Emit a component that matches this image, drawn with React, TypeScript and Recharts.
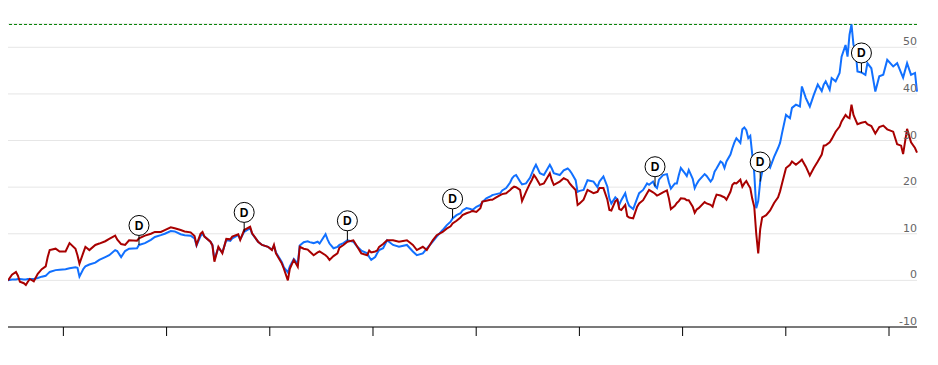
import { ComposedChart, Line, XAxis, YAxis, CartesianGrid, ReferenceLine } from "recharts";

// weeks since the start of the period
const weeks = [
  0, 2, 4, 5, 6, 8, 9, 10, 11, 13, 15, 17, 19, 20, 21, 24, 26, 29, 31, 34, 35, 36, 38, 39, 41, 44, 46, 49, 51, 54,
  55, 57, 59, 61, 65, 66, 69, 72, 74, 77, 79, 82, 84, 87, 89, 92, 94, 95, 97, 98, 99, 102, 103, 104, 106, 108, 110,
  112, 113, 116, 117, 119, 122, 123, 126, 128, 131, 133, 134, 135, 138, 139, 141, 142, 144, 146, 147, 149, 151, 152,
  154, 156, 157, 160, 161, 162, 164, 166, 167, 169, 171, 174, 176, 178, 181, 182, 183, 185, 186, 187, 189, 191, 194,
  197, 201, 204, 206, 209, 211, 214, 216, 219, 221, 223, 224, 226, 228, 229, 231, 233, 234, 236, 238, 239, 241, 243,
  244, 246, 248, 249, 251, 253, 254, 255, 256, 258, 259, 261, 263, 264, 265, 266, 268, 270, 273, 274, 275, 278, 280,
  282, 283, 284, 286, 287, 288, 290, 292, 295, 297, 298, 300, 302, 303, 304, 306, 307, 308, 309, 311, 312, 313, 315,
  317, 318, 320, 322, 323, 325, 326, 327, 328, 330, 332, 333, 334, 336, 337, 338, 339, 341, 342, 343, 345, 346, 347,
  348, 351, 352, 354, 355, 356, 357, 359, 360, 361, 362, 364, 365, 366, 367, 369, 370, 371, 372, 373, 374, 375, 376,
  377, 378, 379, 380, 382, 384, 386, 388, 389, 390, 392, 394, 395, 397, 399, 400, 402, 404, 406, 408, 410, 411, 412,
  414, 415, 417, 419, 420, 422, 423, 424, 425, 426, 427, 428, 430, 432, 433, 435, 437, 439, 441, 443, 446, 448, 450,
  451, 453, 455, 457, 458,
];

// total return in %, stock (blue)
const stockReturn = [
  0, 0.2, 0.2, 0.3, 0.3, 0.2, 0.2, 0.3, 0.3, 0.3, 0.5, 0.8, 1.0, 1.4, 1.8, 2.2, 2.3, 2.4, 2.6, 2.8, 2.7, 0.8, 2.5, 3.0,
  3.4, 3.8, 4.4, 5.0, 5.4, 6.5, 6.3, 5.0, 6.3, 6.8, 6.9, 7.6, 8.0, 8.7, 9.3, 9.7, 10.0, 10.6, 10.5, 9.9, 9.7, 9.6, 9.0,
  7.5, 9.5, 10.0, 9.4, 8.3, 7.6, 4.5, 7.0, 6.0, 8.7, 8.5, 9.0, 9.7, 8.8, 10.4, 11.2, 10.0, 8.3, 7.6, 7.2, 6.6, 7.4, 6.0,
  3.9, 2.8, 1.7, 3.0, 4.6, 3.6, 7.5, 8.2, 8.4, 8.2, 8.0, 8.3, 7.9, 9.9, 8.8, 7.9, 6.9, 7.2, 7.6, 8.0, 8.6, 8.3, 7.2,
  6.4, 5.8, 5.0, 4.4, 5.0, 5.8, 6.5, 6.9, 8.6, 7.6, 7.2, 7.6, 6.2, 5.4, 5.8, 6.8, 8.3, 9.4, 10.8, 11.8, 12.6, 13.3, 14.0,
  14.4, 15.0, 15.5, 15.3, 15.1, 15.8, 16.2, 16.8, 17.6, 18.0, 18.3, 18.5, 18.7, 19.3, 19.8, 21.0, 21.9, 22.4, 22.6, 21.2,
  20.6, 20.8, 22.0, 23.0, 24.0, 24.8, 23.0, 22.6, 24.8, 24.0, 23.0, 22.6, 23.6, 24.0, 23.6, 23.0, 21.5, 19.0, 19.2, 19.4,
  21.5, 21.2, 20.0, 21.2, 22.3, 20.1, 17.6, 16.5, 17.8, 17.4, 16.2, 17.2, 18.7, 17.0, 16.0, 15.3, 17.6, 18.7, 19.4, 20.8,
  20.5, 21.2, 20.2, 19.8, 21.6, 22.6, 22.8, 21.0, 19.7, 20.8, 20.8, 22.6, 24.1, 23.0, 22.4, 23.7, 21.8, 19.8, 20.7, 21.4,
  22.8, 22.4, 21.2, 21.8, 23.3, 24.0, 25.5, 25.2, 24.1, 25.5, 27.0, 28.4, 29.6, 30.5, 29.5, 32.4, 32.8, 32.2, 30.5, 31.0,
  27.0, 23.0, 15.5, 17.0, 21.2, 23.3, 25.5, 24.2, 26.5, 28.4, 29.5, 31.6, 35.5, 34.8, 37.0, 37.7, 37.3, 41.6, 39.1, 37.3,
  39.8, 42.0, 40.6, 42.0, 42.7, 40.9, 43.4, 42.7, 44.5, 48.0, 50.5, 48.0, 52.7, 54.9, 50.5, 49.8, 44.8, 44.6, 44.1, 46.6,
  45.5, 40.5, 43.8, 44.1, 47.3, 45.9, 46.6, 44.5, 43.5, 46.6, 44.1, 44.5, 40.5,
];

// total return in %, index (dark red)
const indexReturn = [
  0, 1.2, 1.8, 1.0, -0.3, -0.6, -1.0, -0.3, 0.3, -0.2, 1.4, 2.4, 3.0, 5.0, 6.5, 6.8, 6.2, 6.2, 8.0, 6.8, 5.4, 3.6, 6.0,
  7.2, 6.5, 7.6, 7.9, 8.4, 8.9, 9.6, 8.8, 7.8, 7.6, 8.6, 8.5, 9.0, 9.6, 10.0, 10.4, 10.4, 10.8, 11.4, 11.2, 10.8, 10.5,
  10.3, 9.5, 7.6, 10.0, 10.4, 9.4, 8.3, 7.5, 4.0, 7.2, 5.8, 8.9, 8.8, 9.4, 9.9, 8.7, 10.8, 11.5, 10.1, 8.3, 7.6, 7.2, 6.5,
  7.6, 5.8, 3.6, 2.5, 0.0, 2.5, 4.4, 2.9, 7.2, 6.8, 6.6, 6.2, 5.4, 6.0, 6.2, 5.4, 5.0, 4.4, 5.2, 5.8, 7.0, 7.6, 8.3, 8.6,
  7.2, 5.8, 5.4, 6.4, 6.0, 6.2, 6.4, 7.2, 7.8, 8.6, 8.6, 8.3, 8.6, 7.6, 6.5, 7.2, 6.5, 8.6, 9.7, 10.4, 11.1, 11.6, 12.2,
  12.8, 13.5, 14.0, 14.4, 14.7, 14.9, 14.7, 15.5, 16.9, 17.1, 17.3, 17.3, 17.8, 18.3, 18.5, 18.7, 19.4, 19.8, 20.1, 20.0,
  19.4, 17.0, 19.0, 20.8, 21.6, 22.6, 22.0, 20.5, 20.8, 23.0, 21.5, 20.5, 21.2, 21.9, 21.5, 20.8, 20.3, 19.4, 16.2, 16.5,
  17.3, 19.4, 18.7, 19.0, 19.8, 19.8, 17.3, 15.1, 15.0, 17.0, 17.3, 15.3, 15.1, 16.2, 13.8, 13.5, 13.3, 15.8, 16.5, 17.2,
  18.7, 19.4, 18.9, 18.6, 18.2, 18.4, 18.9, 19.3, 17.6, 15.3, 16.0, 16.6, 17.0, 17.6, 17.5, 17.2, 17.2, 15.8, 14.5, 15.2,
  15.5, 16.8, 16.5, 16.2, 15.8, 17.3, 18.4, 18.2, 18.0, 17.8, 17.3, 19.0, 20.5, 20.9, 20.8, 21.6, 20.1, 20.8, 21.3, 20.5,
  19.8, 17.5, 15.8, 10.0, 5.8, 11.0, 13.5, 14.0, 15.0, 16.6, 17.8, 19.1, 20.8, 24.1, 24.8, 25.5, 24.8, 25.5, 25.9, 24.4,
  22.5, 24.1, 25.5, 27.0, 28.9, 29.0, 29.6, 30.3, 31.9, 33.0, 34.1, 35.5, 35.0, 34.8, 37.7, 35.5, 34.5, 33.5, 33.8, 34.0,
  33.5, 33.1, 31.5, 32.9, 33.2, 32.4, 31.9, 29.2, 28.9, 27.1, 32.5, 29.6, 28.4, 27.4,
];

const dividendWeeks = [66, 119, 171, 224, 326, 379, 430];
const yTicks = [-10, 0, 10, 20, 30, 40, 50];
const yearStartWeeks = [27.9, 79.9, 131.9, 183.9, 235.9, 287.9, 339.9, 391.9, 443.9];

const rows = weeks.map((w, i) => ({ w, stock: stockReturn[i], index: indexReturn[i] }));
const peak = Math.max(...stockReturn);

function renderYTick(props: any) {
  const { x, y, payload } = props;
  return (
    <text
      key={`yt-${payload.value}`}
      x={x}
      y={y - 2}
      textAnchor="end"
      fill="#666"
      fontSize={11}
      fontFamily="'DejaVu Sans', sans-serif"
    >
      {payload.value}
    </text>
  );
}

function DividendDot(props: any) {
  const { cx, cy, payload, index } = props;
  if (!dividendWeeks.includes(payload.w)) return <g key={`div-${index}`} />;
  return (
    <g key={`div-${index}`}>
      <line x1={cx} y1={cy} x2={cx} y2={cy - 10} stroke="#000" />
      <circle cx={cx} cy={cy - 19.5} r={10} fill="#fff" stroke="#000" />
      <text
        x={cx}
        y={cy - 15.3}
        textAnchor="middle"
        fontSize={12}
        fontWeight="bold"
        fontFamily="'Liberation Sans', Arial, sans-serif"
        fill="#000"
      >
        D
      </text>
    </g>
  );
}

export default function App() {
  return (
    <ComposedChart width={930} height={357} data={rows} margin={{ top: 16, right: 20, bottom: 0, left: 0 }}>
      <CartesianGrid vertical={false} stroke="#e6e6e6" />
      <XAxis
        dataKey="w"
        type="number"
        domain={[0, "dataMax"]}
        ticks={yearStartWeeks}
        tickFormatter={() => ""}
        height={38}
        axisLine={{ stroke: "#000" }}
        tickLine={{ stroke: "#000" }}
        tickSize={9}
      />
      <YAxis
        orientation="right"
        width={1}
        domain={[-10, 55]}
        ticks={yTicks}
        interval={0}
        axisLine={false}
        tickLine={false}
        tickSize={0}
        tickMargin={0}
        tick={renderYTick}
      />
      <ReferenceLine y={peak} stroke="#008000" strokeDasharray="3 2" />
      <Line dataKey="stock" stroke="#1170ff" strokeWidth={2} dot={false} isAnimationActive={false} />
      <Line dataKey="index" stroke="#a80000" strokeWidth={2} dot={false} isAnimationActive={false} />
      <Line dataKey="stock" stroke="none" dot={DividendDot} activeDot={false} isAnimationActive={false} />
    </ComposedChart>
  );
}
